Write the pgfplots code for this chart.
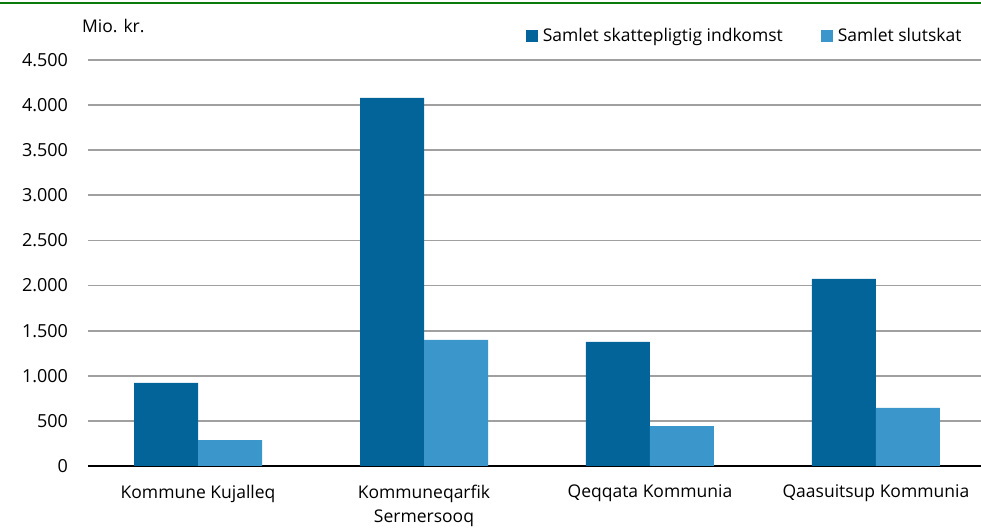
\documentclass[border=0pt]{standalone}
\usepackage{pgfplots}
\pgfplotsset{compat=1.18}
\usepackage{fontspec}
\setmainfont{Open Sans}
\definecolor{darkb}{HTML}{03649A}
\definecolor{lightb}{HTML}{3A96CB}
\definecolor{gridg}{HTML}{A0A0A0}
\definecolor{topgreen}{HTML}{0A7A0A}
\begin{document}
\fontsize{17.5bp}{22bp}\selectfont
\begin{tikzpicture}
\useasboundingbox (0,0) rectangle (981bp,528bp);
\draw[topgreen, line width=2.5bp] (0,525bp) -- (981bp,525bp);
\begin{axis}[
  at={(88bp,62bp)}, anchor=south west,
  scale only axis, width=893bp, height=406bp,
  ybar=0pt, bar width=64bp,
  xmin=-0.487, xmax=3.465,
  ymin=0, ymax=4500,
  ytick={0,500,...,4500},
  xtick={0,1,2,3},
  xticklabels={Kommune Kujalleq,{Kommuneqarfik\\Sermersooq},Qeqqata Kommunia,Qaasuitsup Kommunia},
  xticklabel style={align=center, font=\fontsize{17.5bp}{24bp}\selectfont, yshift=-13bp},
  yticklabel style={font=\fontsize{18bp}{22bp}\selectfont, xshift=-14bp},
  /pgf/number format/assume math mode=true,
  /pgf/number format/.cd, 1000 sep={.}, /pgfplots/.cd,
  major tick length=0pt,
  ymajorgrids, grid style={gridg, line width=1.8bp},
  axis x line*=bottom, axis y line*=left,
  x axis line style={black, line width=2.5bp, -},
  y axis line style={draw=none},
  legend columns=2,
  legend style={draw=none, fill=none, at={(0.984,1.059)}, anchor=east,
    font=\fontsize{17.5bp}{22bp}\selectfont,
    /tikz/every even column/.append style={column sep=36bp}},
  legend image code/.code={\fill[#1] (-2bp,-6bp) rectangle (10bp,6bp);},
]
\addplot[fill=darkb, draw=none] coordinates {(0,920) (1,4080) (2,1375) (3,2073)};
\addplot[fill=lightb, draw=none] coordinates {(0,288) (1,1397) (2,443) (3,643)};
\legend{\hspace{3bp}Samlet skattepligtig indkomst, \hspace{3bp}Samlet slutskat}
\end{axis}
\node[anchor=west, font=\fontsize{17.5bp}{22bp}\selectfont] at (76bp,502bp) {Mio. kr.};
\end{tikzpicture}
\end{document}
